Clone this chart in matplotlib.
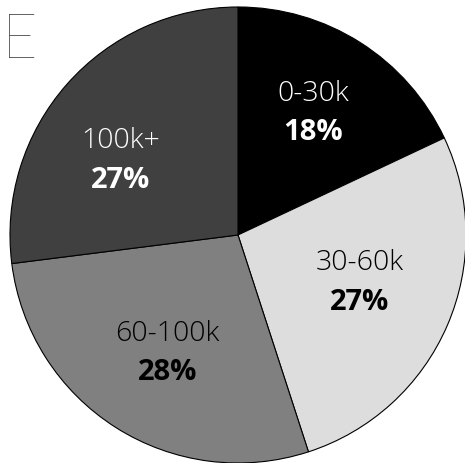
import numpy as np
import matplotlib.pyplot as plt

# DATA

categories = ["0-30k", "30-60k", "60-100k", "100k+"]
shares = [18, 27, 28, 27]
slice_colors = ["#000000", "#dddddd", "#808080", "#404040"]
label_colors = ["white", "black", "black", "white"]

# label placement: distance from centre and angle nudge (degrees)
label_dist = [0.63, 0.57, 0.60, 0.61]
label_nudge = [1.0, 2.3, 1.5, 8.7]

# FIGURE

fig = plt.figure(figsize=(4.65, 4.64), dpi=100)
ax = fig.add_axes([10 / 465, 0 / 464, 456 / 465, 456 / 464])

wedges, _ = ax.pie(
    shares,
    colors=slice_colors,
    startangle=90,
    counterclock=False,
    radius=1,
    wedgeprops=dict(edgecolor="black", linewidth=0.8),
)

ax.set_xlim(-1, 1)
ax.set_ylim(-1, 1)
ax.set_aspect("equal")
ax.axis("off")

# Labels inside slices

for w, name, pct, col, d, nud in zip(wedges, categories, shares,
                                     label_colors, label_dist, label_nudge):
    mid = np.deg2rad((w.theta1 + w.theta2) / 2 + nud)
    x = d * np.cos(mid)
    y = d * np.sin(mid)
    ax.text(x, y + 0.085, name, ha="center", va="center",
            color=col, fontsize=20.5, family="Open Sans", fontweight="light")
    ax.text(x, y - 0.085, f"{pct}%", ha="center", va="center",
            color=col, fontsize=21, family="Open Sans", fontweight="bold")

# Panel letter

fig.text(2 / 465, 1 - 13 / 464, "E", ha="left", va="top",
         fontsize=44, family="Lato", fontweight=100, color="#333333")

fig.savefig("out.png", dpi=100)
